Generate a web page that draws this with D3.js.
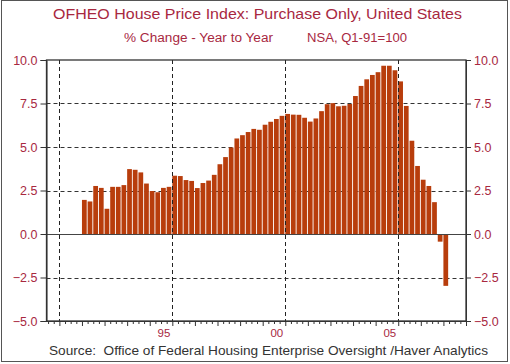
<!DOCTYPE html>
<html>
<head>
<meta charset="utf-8">
<script src="https://cdn.jsdelivr.net/npm/d3@7/dist/d3.min.js"></script>
<style>
  html, body { margin: 0; padding: 0; background: #fff; }
  svg { display: block; }
  text { font-family: "Liberation Sans", Arial, sans-serif; white-space: pre; }
</style>
</head>
<body>
<svg id="chart" width="510" height="364"></svg>
<script>
// ---- Data ----
const firstQuarterYear = 1991;          // first bar = Q1 of this year on the axis
const quarterValues = [
  1.96, 1.87, 2.76, 2.65, 1.45, 2.71, 2.71, 2.81, 3.73, 3.69, 3.54, 2.90, 2.47, 2.40, 2.65, 2.71,
  3.35, 3.33, 3.10, 3.05, 2.64, 2.93, 3.07, 3.40, 4.01, 4.42, 4.97, 5.49, 5.68, 5.86, 6.04, 5.99,
  6.28, 6.45, 6.61, 6.79, 6.90, 6.86, 6.85, 6.68, 6.46, 6.64, 7.06, 7.46, 7.52, 7.34, 7.37, 7.47,
  7.93, 8.51, 8.89, 9.14, 9.30, 9.67, 9.67, 9.41, 8.77, 7.36, 5.36, 3.91, 3.12, 2.76, 1.83, -0.44, -2.98
];
const yTickValues = [-5, -2.5, 0, 2.5, 5, 7.5, 10];
const yGridValues = [-2.5, 2.5, 5, 7.5];
const xGridYears = [1990, 1995, 2000, 2005];
const xLabelYears = [1995, 2000, 2005];
const xLabelTexts = ["95", "00", "05"];
const titleText = "OFHEO House Price Index: Purchase Only, United States";
const subtitleLeft = "% Change - Year to Year";
const subtitleRight = "NSA, Q1-91=100";
const sourceText = "Source:  Office of Federal Housing Enterprise Oversight /Haver Analytics";

(function () {
// ---- Layout ----
const svg = d3.select("#chart");
const red = "#A8283F";
const barColor = "#B83D0C";
const pL = 46.5, pR = 466, pT = 60, pB = 321;

const x = d3.scaleLinear().domain([1989.43, 2008.0]).range([pL, pR]);
const y = d3.scaleLinear().domain([-5, 10]).range([pB, pT]);

const bars = quarterValues.map((v, i) => ({ t: firstQuarterYear + i / 4, v }));

// outer frame
svg.append("rect").attr("x", 1.5).attr("y", 0.5).attr("width", 506).attr("height", 361)
  .attr("fill", "none").attr("stroke", "#555").attr("stroke-width", 1);

// horizontal dashed gridlines (behind bars)
svg.append("g").selectAll("line").data(yGridValues).join("line")
  .attr("x1", pL).attr("x2", pR)
  .attr("y1", d => Math.round(y(d)) + 0.5).attr("y2", d => Math.round(y(d)) + 0.5)
  .attr("stroke", "#333").attr("stroke-width", 1).attr("stroke-dasharray", "4,3");

// bars
svg.append("g").selectAll("rect").data(bars).join("rect")
  .attr("x", d => x(d.t))
  .attr("width", d => x(d.t + 0.25) - x(d.t) - 0.9)
  .attr("y", d => y(Math.max(0, d.v)))
  .attr("height", d => Math.abs(y(d.v) - y(0)))
  .attr("fill", barColor);

// vertical dashed gridlines (over bars)
svg.append("g").selectAll("line").data(xGridYears).join("line")
  .attr("x1", d => Math.round(x(d)) + 0.5).attr("x2", d => Math.round(x(d)) + 0.5)
  .attr("y1", pT).attr("y2", pB)
  .attr("stroke", "#222").attr("stroke-width", 1).attr("stroke-dasharray", "4,3");

// zero line
svg.append("line").attr("x1", pL).attr("x2", pR)
  .attr("y1", Math.round(y(0)) + 0.5).attr("y2", Math.round(y(0)) + 0.5)
  .attr("stroke", "#444").attr("stroke-width", 1);

// plot frame
svg.append("rect").attr("x", pL).attr("y", pT).attr("width", pR - pL).attr("height", pB - pT)
  .attr("fill", "none").attr("stroke", "#333").attr("stroke-width", 1.3);

// y axes
const fmt = d3.format(".1f");
const yLeft = d3.axisLeft(y).tickValues(yTickValues).tickFormat(fmt).tickSize(6).tickPadding(3);
const yRight = d3.axisRight(y).tickValues(yTickValues).tickFormat(fmt).tickSize(5).tickPadding(3);
const gl = svg.append("g").attr("transform", `translate(${pL},0)`).call(yLeft);
const gr = svg.append("g").attr("transform", `translate(${pR},0)`).call(yRight);
[gl, gr].forEach(g => {
  g.select(".domain").attr("stroke", "#333");
  g.selectAll(".tick line").attr("stroke", "#333");
  g.selectAll(".tick text").attr("fill", red).attr("font-size", 12.5)
    .attr("font-family", "'Liberation Sans', Arial, sans-serif");
});

// x axis: quarterly minor ticks, yearly major ticks
const quarterTicks = d3.range(0, Math.round((2008 - 1989.5) * 4) + 1).map(k => 1989.5 + k / 4);
const xAxis = d3.axisBottom(x).tickValues(quarterTicks).tickFormat("").tickSize(0);
const gx = svg.append("g").attr("transform", `translate(0,${pB})`).call(xAxis);
gx.select(".domain").attr("stroke", "#333");
gx.selectAll(".tick line").remove();
gx.selectAll(".tick").append("line")
  .attr("y1", 0)
  .attr("y2", d => Math.abs(d - Math.round(d)) < 1e-6 ? 5 : 3)
  .attr("stroke", "#333");

// x labels
svg.append("g").selectAll("text").data(xLabelYears).join("text")
  .attr("x", d => x(d) - 2).attr("y", 337)
  .attr("text-anchor", "end").attr("fill", red).attr("font-size", 11.5)
  .text((d, i) => xLabelTexts[i]);

// titles
svg.append("text").attr("x", 53).attr("y", 18.5).attr("fill", red)
  .attr("font-size", 15).attr("textLength", 409).attr("lengthAdjust", "spacingAndGlyphs")
  .text(titleText);
svg.append("text").attr("x", 124).attr("y", 41.5).attr("fill", red)
  .attr("font-size", 12.5).attr("textLength", 149).attr("lengthAdjust", "spacingAndGlyphs")
  .text(subtitleLeft);
svg.append("text").attr("x", 307).attr("y", 41.5).attr("fill", red)
  .attr("font-size", 12.5).attr("textLength", 100).attr("lengthAdjust", "spacingAndGlyphs")
  .text(subtitleRight);
svg.append("text").attr("x", 49).attr("y", 355).attr("fill", "#333")
  .attr("font-size", 13).attr("textLength", 439).attr("lengthAdjust", "spacingAndGlyphs")
  .text(sourceText);
})();
</script>
</body>
</html>
